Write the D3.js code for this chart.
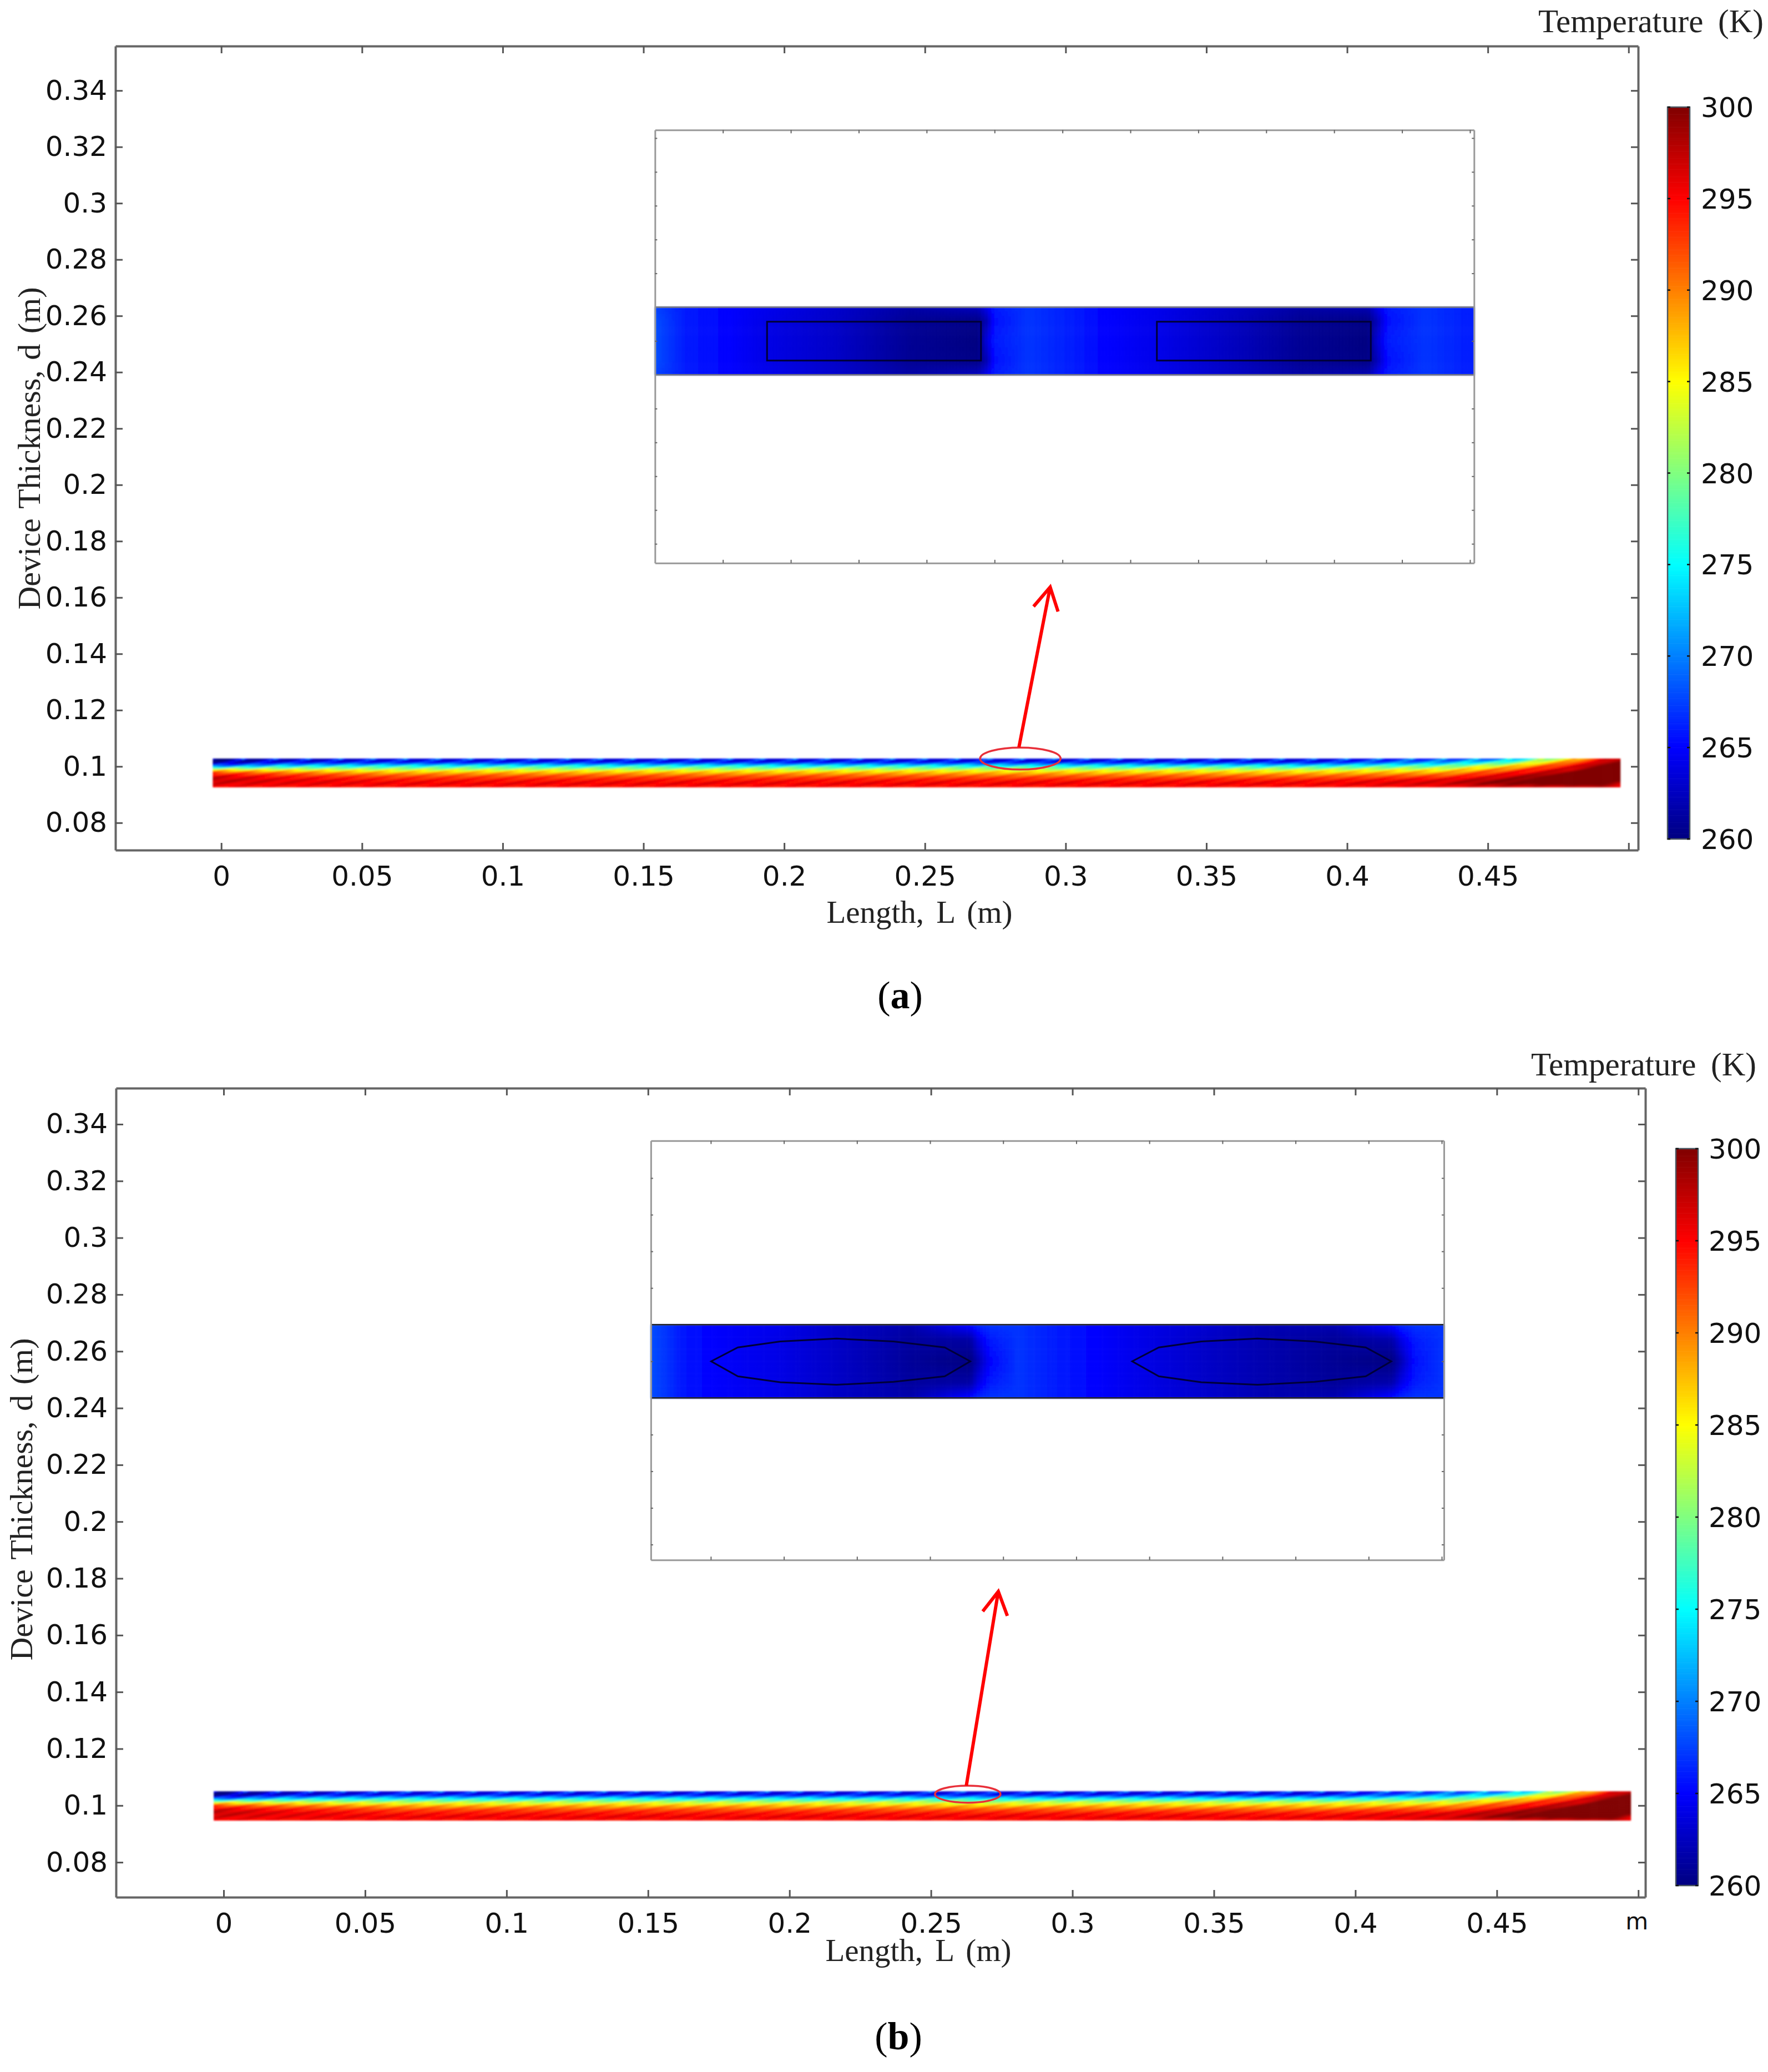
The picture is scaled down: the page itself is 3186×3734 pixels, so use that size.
<!DOCTYPE html>
<html>
<head>
<meta charset="utf-8">
<script src="https://cdn.jsdelivr.net/npm/d3@7"></script>
<style>
  html, body { margin: 0; background: #fff; }
  svg { display: block; }
  .tick-label { font-family: "DejaVu Sans", sans-serif; font-size: 50px; fill: #111; }
  .serif { font-family: "Liberation Serif", serif; fill: #222; }
</style>
</head>
<body>
<div id="chart"></div>
<script>
// axis ticks
const xTickValues = [0, 0.05, 0.1, 0.15, 0.2, 0.25, 0.3, 0.35, 0.4, 0.45, 0.5];
const xTickLabelsA = ["0", "0.05", "0.1", "0.15", "0.2", "0.25", "0.3", "0.35", "0.4", "0.45", ""];
const xTickLabelsB = ["0", "0.05", "0.1", "0.15", "0.2", "0.25", "0.3", "0.35", "0.4", "0.45", "m"];
const yTickValues = [0.08, 0.1, 0.12, 0.14, 0.16, 0.18, 0.2, 0.22, 0.24, 0.26, 0.28, 0.3, 0.32, 0.34];
const yTickLabels = ["0.08", "0.1", "0.12", "0.14", "0.16", "0.18", "0.2", "0.22", "0.24", "0.26", "0.28", "0.3", "0.32", "0.34"];

// colour legend (K)
const legendTicks = [260, 265, 270, 275, 280, 285, 290, 295, 300];
const jetTemps = [260, 265, 275, 280, 285, 295, 300];
const jetColors = ["#000080", "#0000ff", "#00ffff", "#80ff80", "#ffff00", "#ff0000", "#800000"];

// full device strip: temperature (K) by depth level, at stations along the length
const stripDepths = [0, 0.125, 0.25, 0.375, 0.5, 0.625, 0.75, 0.875, 1];
const stripStations = [-0.003, 0.02, 0.06, 0.39, 0.434, 0.454, 0.469, 0.479, 0.49, 0.497];
const stripProfiles = [
  [261, 261, 268, 284, 293, 296.5, 297.5, 296.5, 295],
  [263, 264, 273, 283.5, 291, 294.5, 296, 296, 294.5],
  [264.5, 265, 274.5, 282.5, 288.5, 292.5, 294.5, 295.8, 294.5],
  [264.5, 265, 274.5, 282.5, 287.5, 291.5, 294.3, 295.8, 294.5],
  [266, 271, 278, 284.5, 289, 293, 296, 297, 295],
  [268, 276, 284, 290, 294, 296.5, 299, 300, 296],
  [278, 285, 291, 295, 297, 300, 301, 301, 296],
  [284, 291, 295, 297, 300, 302, 302, 302, 296],
  [295, 297, 300, 302, 302, 302, 302, 302, 297],
  [297, 300, 303, 303, 303, 303, 301, 296, 295]
];
const stripMeshFade = [1, 1, 1, 1, 1, 1, 0.8, 0.6, 0.3, 0.2];

// one mesh cell of the strip: temperature offset (K) by depth level and position in the cell
const meshRipple = [
  [-1, -1.5, -1.5, -1, 1, 8],
  [2, -1, -1.5, -1.5, -0.5, 1],
  [2.5, 0.5, -1.2, -1.8, -1.2, 0.5],
  [2.5, 0.5, -1.5, -2, -1.5, 0.5],
  [2, 0.5, -1, -1.5, -1, 0.5],
  [1.5, 0.3, -0.7, -1, -0.7, 0.3],
  [1.5, 0.3, -0.7, -1, -0.7, 0.3],
  [1.8, 0.3, -0.8, -1, -0.8, 0.3],
  [0.8, 0, -0.5, -0.5, -0.5, 0]
];

// inset of panel a: temperature (K) at stations along the inset, three rows from mid-band to edge
const insetRowsAt = [0, 0.6, 1];
const insetStationsA = [0, 0.43, 1.1, 1.67, 2.67, 3.75, 4.76, 4.88, 5, 5.5, 6, 6.67, 7.38, 8.5, 9.5, 10.5, 10.62, 10.79, 11.33, 12.06];
const insetCenterA = [268, 266, 265, 264, 262.8, 260.8, 260, 263.5, 266, 267, 266.3, 265, 264.2, 262.5, 260.8, 260, 263, 266, 267, 266];
const insetMidA = [268, 266, 265, 264, 262.8, 260.8, 260.3, 262, 265.5, 267, 266.3, 265, 264.2, 262.5, 260.8, 260.2, 262, 265.5, 267, 266];
const insetEdgeA = [267.5, 266, 265, 264.3, 263, 261.5, 262.5, 264.3, 266, 267, 266.3, 265, 264.3, 262.8, 261.5, 262, 264, 266, 267, 266];

// inset of panel b
const insetStationsB = [0, 0.45, 0.83, 1.77, 2.54, 3.55, 4.37, 4.48, 4.64, 5.03, 5.4, 6.1, 6.58, 7.6, 8.43, 9.36, 10.14, 10.26, 10.45, 10.85];
const insetCenterB = [268, 265.8, 265, 264, 262.8, 261, 260, 262, 265, 267, 266.3, 265, 264.3, 262.8, 261.8, 260.8, 260, 262, 265.5, 267];
const insetMidB = [268, 265.8, 265, 264, 262.8, 261.2, 261.5, 264, 266, 267, 266.3, 265, 264.3, 262.8, 261.8, 261, 261.8, 264, 266, 267];
const insetEdgeB = [268, 265.8, 265, 264.3, 262.8, 261.8, 265.5, 266.5, 267, 267, 266.3, 265, 264.3, 263.2, 262, 262, 265.5, 266.5, 267, 267];

// phase change outlines in the insets
const pcmXA = [1.65, 4.8, 4.8, 1.65];
const pcmYA = [0.57, 0.57, -0.58, -0.58];
const pcmXB = [0.825, 1.19, 1.77, 2.54, 3.32, 4.02, 4.37, 4.02, 3.32, 2.54, 1.77, 1.19];
const pcmYB = [0, 0.38, 0.54, 0.62, 0.54, 0.38, 0, -0.41, -0.56, -0.64, -0.57, -0.41];

const insetTicksXA = [1, 2, 3, 4, 5, 6, 7, 8, 9, 10, 11, 12];
const insetTicksXB = [0.82, 1.82, 2.82, 3.82, 4.82, 5.82, 6.82, 7.82, 8.82, 9.82, 10.82];
const insetTicksYA = [-6, -5, -4, -3, -2, 0, 2, 3, 4, 5, 6];
const insetTicksYB = [-5, -4, -3, -2, 0, 2, 3, 4, 5];

const W = 3186, H = 3734;

const panels = [
  {
    box: { left: 208, right: 2952, top: 83, bottom: 1532 },
    xDomain: [-0.0376, 0.5034], yDomain: [0.0703, 0.3558],
    xLabels: xTickLabelsA,
    strip: { x0: -0.003, x1: 0.497, top: 0.1028, bottom: 0.0927, gapX: 0.262 },
    ring: { x: 0.2839, y: 0.1028, rx: 0.0143, ry: 0.0039 },
    arrow: { from: [0.2834, 0.1068], to: [0.2945, 0.1637], left: [0.2886, 0.1568], right: [0.2973, 0.155] },
    inset: {
      x0: 0.1541, x1: 0.4451, top: 0.326, bottom: 0.1722,
      uDomain: [0, 12.06], vDomain: [-6.57, 6.24],
      ticksX: insetTicksXA, ticksY: insetTicksYA,
      stations: insetStationsA, rows: [insetCenterA, insetMidA, insetEdgeA],
      pcmX: pcmXA, pcmY: pcmYA, pcmGap: 5.74, edge: "#777"
    },
    legend: { x: 3005, width: 40, top: 193, bottom: 1512, labelX: 3065 },
    title: { x: 3178, y: 58 },
    xTitle: { x: 1657, y: 1663 },
    yTitle: { x: 72, y: 808 },
    tag: { text: "a", x: 1622, y: 1817 }
  },
  {
    box: { left: 209, right: 2965, top: 1961, bottom: 3419 },
    xDomain: [-0.03805, 0.5025], yDomain: [0.0677, 0.3527],
    xLabels: xTickLabelsB,
    strip: { x0: -0.0035, x1: 0.4967, top: 0.105, bottom: 0.0948, gapX: 0.0082 },
    ring: { x: 0.263, y: 0.104, rx: 0.01157, ry: 0.003 },
    arrow: { from: [0.2625, 0.107], to: [0.2738, 0.1754], left: [0.2683, 0.1684], right: [0.277, 0.1668] },
    inset: {
      x0: 0.151, x1: 0.4313, top: 0.3342, bottom: 0.1865,
      uDomain: [0, 10.85], vDomain: [-5.42, 6.02],
      ticksX: insetTicksXB, ticksY: insetTicksYB,
      stations: insetStationsB, rows: [insetCenterB, insetMidB, insetEdgeB],
      pcmX: pcmXB, pcmY: pcmYB, pcmGap: 5.76, edge: "#222"
    },
    legend: { x: 3020, width: 40, top: 2070, bottom: 3398, labelX: 3079 },
    title: { x: 3165, y: 1938 },
    xTitle: { x: 1655, y: 3534 },
    yTitle: { x: 58, y: 2702 },
    tag: { text: "b", x: 1619, y: 3693 }
  }
];

const jet = d3.scaleLinear().domain(jetTemps).range(jetColors).clamp(true);

const svg = d3.select("#chart").append("svg").attr("width", W).attr("height", H);

const blur = svg.append("defs").append("filter")
  .attr("id", "soft")
  .attr("x", "-5%").attr("y", "-20%").attr("width", "110%").attr("height", "140%");
blur.append("feGaussianBlur").attr("stdDeviation", 1.4);

// temperature in the strip: stations through d3 scales, mesh cell repeated along the length
const stripByDepth = d3.transpose(stripProfiles)
  .map(col => d3.scaleLinear().domain(stripStations).range(col).clamp(true));
const fadeAt = d3.scaleLinear().domain(stripStations).range(stripMeshFade).clamp(true);
const meshPeriod = 0.01153;
const meshShear = 4.5;

function ripple(phase, depth) {
  const rows = meshRipple.length - 1, cols = meshRipple[0].length;
  const r = Math.min(depth * rows, rows - 1e-6), r0 = Math.floor(r);
  const c = (phase - Math.floor(phase)) * cols, c0 = Math.floor(c) % cols, c1 = (c0 + 1) % cols;
  const at = row => row[c0] + (row[c1] - row[c0]) * (c - Math.floor(c));
  const a = at(meshRipple[r0]), b = at(meshRipple[r0 + 1]);
  return a + (b - a) * (r - r0);
}

function drawPanel(p) {
  const g = svg.append("g");
  const x = d3.scaleLinear().domain(p.xDomain).range([p.box.left, p.box.right]);
  const y = d3.scaleLinear().domain(p.yDomain).range([p.box.bottom, p.box.top]);

  // strip cells
  const s = p.strip;
  const cells = [];
  const stepX = 0.0008, depthSteps = 26;
  d3.range(s.x0, s.x1, stepX).forEach(xv => {
    const profile = d3.scaleLinear().domain(stripDepths).range(stripByDepth.map(f => f(xv)));
    const fade = fadeAt(xv);
    d3.range(depthSteps).forEach(i => {
      const d = (i + 0.5) / depthSteps;
      const phase = (xv - s.gapX) / meshPeriod + 5 / 6 + meshShear * d;
      cells.push({ x: xv, i, t: profile(d) + fade * ripple(phase, d) });
    });
  });
  const depthY = d3.scaleLinear().domain([0, depthSteps]).range([s.top, s.bottom]);
  g.append("g").attr("filter", "url(#soft)")
    .selectAll("rect").data(cells).join("rect")
      .attr("x", d => x(d.x))
      .attr("y", d => y(depthY(d.i)))
      .attr("width", x(stepX) - x(0) + 0.6)
      .attr("height", y(depthY(1)) - y(depthY(0)) + 0.6)
      .attr("fill", d => jet(d.t));

  // frame with inward ticks on all sides
  const xAxis = d3.axisBottom(x).tickValues(xTickValues)
    .tickFormat((d, i) => p.xLabels[i]).tickSizeInner(-13).tickSizeOuter(0).tickPadding(28.5);
  const yAxis = d3.axisLeft(y).tickValues(yTickValues)
    .tickFormat((d, i) => yTickLabels[i]).tickSizeInner(-13).tickSizeOuter(0).tickPadding(15);
  const axes = [
    g.append("g").attr("transform", `translate(0,${p.box.bottom})`).call(xAxis),
    g.append("g").attr("transform", `translate(${p.box.left},0)`).call(yAxis),
    g.append("g").attr("transform", `translate(0,${p.box.top})`)
      .call(d3.axisTop(x).tickValues(xTickValues).tickFormat("").tickSizeInner(-13).tickSizeOuter(0)),
    g.append("g").attr("transform", `translate(${p.box.right},0)`)
      .call(d3.axisRight(y).tickValues(yTickValues).tickFormat("").tickSizeInner(-13).tickSizeOuter(0))
  ];
  axes.forEach(a => {
    a.attr("font-family", null).attr("font-size", null);
    a.select(".domain").attr("stroke", "#666").attr("stroke-width", 4);
    a.selectAll(".tick line").attr("stroke", "#555").attr("stroke-width", 3);
    a.selectAll(".tick text").attr("class", "tick-label");
  });
  axes[0].selectAll(".tick text").filter(d => d === 0.5)
    .style("font-size", "42px").attr("dx", "-3");

  drawInset(g, p, x, y);

  // red marker around the detail and arrow to the inset
  g.append("ellipse")
    .attr("cx", x(p.ring.x)).attr("cy", y(p.ring.y))
    .attr("rx", x(p.ring.rx) - x(0)).attr("ry", y(0) - y(p.ring.ry))
    .attr("fill", "none").attr("stroke", "#e8303a").attr("stroke-width", 3.5);
  const line = d3.line().x(d => x(d[0])).y(d => y(d[1]));
  g.append("path").attr("d", line([p.arrow.from, p.arrow.to]))
    .attr("fill", "none").attr("stroke", "#ff0000").attr("stroke-width", 6);
  g.append("path").attr("d", line([p.arrow.left, p.arrow.to, p.arrow.right]))
    .attr("fill", "none").attr("stroke", "#ff0000").attr("stroke-width", 6);

  drawLegend(g, p);

  g.append("text").attr("class", "serif")
    .attr("x", p.title.x).attr("y", p.title.y)
    .attr("text-anchor", "end").attr("font-size", 59).attr("word-spacing", 12)
    .text("Temperature (K)");
  g.append("text").attr("class", "serif")
    .attr("x", p.xTitle.x).attr("y", p.xTitle.y)
    .attr("text-anchor", "middle").attr("font-size", 57).attr("word-spacing", 8)
    .text("Length, L (m)");
  g.append("text").attr("class", "serif")
    .attr("transform", `translate(${p.yTitle.x},${p.yTitle.y}) rotate(-90)`)
    .attr("text-anchor", "middle").attr("font-size", 58).attr("word-spacing", 4)
    .text("Device Thickness, d (m)");

  const tag = g.append("text").attr("class", "serif")
    .attr("x", p.tag.x).attr("y", p.tag.y)
    .attr("text-anchor", "middle").attr("font-size", 70).style("fill", "#000");
  tag.append("tspan").text("(");
  tag.append("tspan").attr("font-weight", "bold").text(p.tag.text);
  tag.append("tspan").text(")");
}

function drawInset(g, p, x, y) {
  const ins = p.inset;
  const u = d3.scaleLinear().domain(ins.uDomain).range([x(ins.x0), x(ins.x1)]);
  const v = d3.scaleLinear().domain(ins.vDomain).range([y(ins.bottom), y(ins.top)]);
  const box = g.append("g");

  // band cells, mirrored about the mid-plane
  const rowScales = ins.rows.map(r => d3.scaleLinear().domain(ins.stations).range(r).clamp(true));
  const stepU = ins.uDomain[1] / 246, bandSteps = 30;
  const bandV = d3.scaleLinear().domain([0, bandSteps]).range([1, -1]);
  const cells = [];
  d3.range(0, ins.uDomain[1], stepU).forEach(uv => {
    const across = d3.scaleLinear().domain(insetRowsAt).range(rowScales.map(f => f(uv + stepU / 2)));
    d3.range(bandSteps).forEach(i => {
      cells.push({ u: uv, i, t: across(Math.abs(bandV(i + 0.5))) });
    });
  });
  const field = box.append("g").attr("filter", "url(#soft)");
  field.selectAll("rect").data(cells).join("rect")
    .attr("x", d => u(d.u))
    .attr("y", d => v(bandV(d.i)))
    .attr("width", u(stepU) - u(0) + 0.6)
    .attr("height", v(bandV(1)) - v(bandV(0)) + 0.6)
    .attr("fill", d => jet(d.t));

  // band edges and frame
  box.selectAll("line.edge").data([1, -1]).join("line").attr("class", "edge")
    .attr("x1", u.range()[0]).attr("x2", u.range()[1])
    .attr("y1", d => v(d)).attr("y2", d => v(d))
    .attr("stroke", ins.edge).attr("stroke-width", 2.5);
  const sizes = [-6, -6, -4, -4];
  const makers = [d3.axisTop(u), d3.axisBottom(u), d3.axisLeft(v), d3.axisRight(v)];
  const spots = [
    `translate(0,${v.range()[1]})`, `translate(0,${v.range()[0]})`,
    `translate(${u.range()[0]},0)`, `translate(${u.range()[1]},0)`
  ];
  makers.forEach((axis, i) => {
    const a = box.append("g").attr("transform", spots[i])
      .call(axis.tickValues(i < 2 ? ins.ticksX : ins.ticksY).tickFormat("").tickSizeInner(sizes[i]).tickSizeOuter(0));
    a.select(".domain").attr("stroke", "#999").attr("stroke-width", 3);
    a.selectAll(".tick line").attr("stroke", "#666").attr("stroke-width", 2);
  });

  // phase change outlines
  const outline = d3.line().x(d => u(d[0])).y(d => v(d[1])).curve(d3.curveLinearClosed);
  const shape = d3.zip(ins.pcmX, ins.pcmY);
  box.selectAll("path.pcm").data([0, ins.pcmGap]).join("path").attr("class", "pcm")
    .attr("d", gap => outline(shape.map(d => [d[0] + gap, d[1]])))
    .attr("fill", "none").attr("stroke", "#000038").attr("stroke-width", 3);
}

function drawLegend(g, p) {
  const l = p.legend;
  const scale = d3.scaleLinear().domain([260, 300]).range([l.bottom, l.top]);
  const leg = g.append("g");
  const step = 0.1;
  leg.selectAll("rect").data(d3.range(260, 300, step)).join("rect")
    .attr("x", l.x).attr("width", l.width)
    .attr("y", d => scale(d + step))
    .attr("height", scale(0) - scale(step) + 0.6)
    .attr("fill", d => jet(d + step / 2));
  leg.append("rect")
    .attr("x", l.x).attr("y", l.top).attr("width", l.width).attr("height", l.bottom - l.top)
    .attr("fill", "none").attr("stroke", "#4a5560").attr("stroke-width", 2.5);
  leg.selectAll("line").data(legendTicks).join("line")
    .attr("x1", l.x).attr("x2", l.x + 5)
    .attr("y1", d => scale(d)).attr("y2", d => scale(d))
    .attr("stroke", "#111").attr("stroke-width", 2.5);
  leg.selectAll("line.r").data(legendTicks).join("line").attr("class", "r")
    .attr("x1", l.x + l.width - 5).attr("x2", l.x + l.width)
    .attr("y1", d => scale(d)).attr("y2", d => scale(d))
    .attr("stroke", "#111").attr("stroke-width", 2.5);
  leg.selectAll("text").data(legendTicks).join("text").attr("class", "tick-label")
    .attr("x", l.labelX).attr("y", d => scale(d)).attr("dy", "0.36em")
    .text(d => d);
}

panels.forEach(drawPanel);
</script>
</body>
</html>
